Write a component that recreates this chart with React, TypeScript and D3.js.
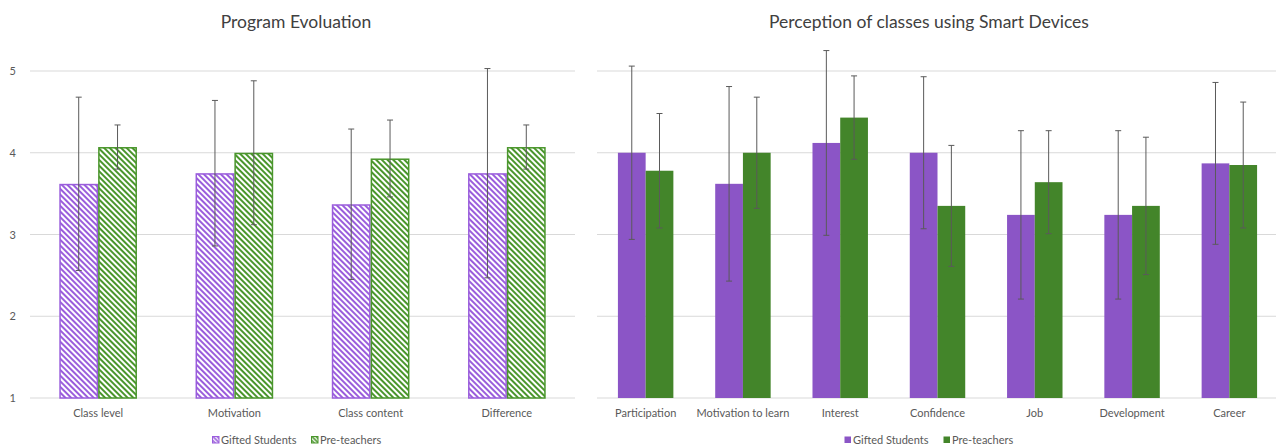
import React from "react";
import * as d3 from "d3";

const W = 1279;
const H = 446;

const seriesNames = ["Gifted Students", "Pre-teachers"];

// Program Evoluation
const evalCategories = ["Class level", "Motivation", "Class content", "Difference"];
const evalGifted = [3.62, 3.75, 3.37, 3.75];
const evalGiftedErr = [1.06, 0.89, 0.92, 1.28];
const evalPre = [4.07, 4.0, 3.93, 4.07];
const evalPreErr = [0.27, 0.88, 0.47, 0.27];

// Perception of classes using Smart Devices
const percCategories = ["Participation", "Motivation to learn", "Interest", "Confidence", "Job", "Development", "Career"];
const percGifted = [4.0, 3.62, 4.12, 4.0, 3.24, 3.24, 3.87];
const percGiftedErr = [1.06, 1.19, 1.13, 0.93, 1.03, 1.03, 0.99];
const percPre = [3.78, 4.0, 4.43, 3.35, 3.64, 3.35, 3.85];
const percPreErr = [0.7, 0.68, 0.51, 0.74, 0.63, 0.84, 0.77];

const yTicks = [1, 2, 3, 4, 5];

const PURPLE = "#8b55c6";
const GREEN = "#43852a";
const PURPLE_HATCH = "#9a5ddc";
const GREEN_HATCH = "#4a962c";
const GRID = "#d9d9d9";
const TEXT = "#595959";
const ERR = "#5a5a5a";
const FONT = "Lato, 'Open Sans', sans-serif";

const yScale = d3.scaleLinear().domain([1, 5]).range([398, 71]);

type PanelProps = {
  title: string;
  titleX: number;
  categories: string[];
  gifted: number[];
  giftedErr: number[];
  pre: number[];
  preErr: number[];
  x0: number;
  x1: number;
  hatched: boolean;
  showYAxis: boolean;
  gridEnd: number;
  legendX: number;
};

function Panel(p: PanelProps) {
  const xBand = d3.scaleBand<string>().domain(p.categories).range([p.x0, p.x1]).paddingInner(0.43).paddingOuter(0.215);
  const xSub = d3.scaleBand<string>().domain(seriesNames).range([0, xBand.bandwidth()]);
  const fills = p.hatched ? ["url(#hatchPurple)", "url(#hatchGreen)"] : [PURPLE, GREEN];
  const strokes = p.hatched ? [PURPLE_HATCH, GREEN_HATCH] : ["none", "none"];
  const values = [p.gifted, p.pre];
  const errs = [p.giftedErr, p.preErr];
  return (
    <g>
      <text x={p.titleX} y={28} textAnchor="middle" fontSize={17.5} fill="#404040" fontFamily={FONT}>
        {p.title}
      </text>
      {yTicks.map((t) => (
        <line key={t} x1={p.x0} x2={p.gridEnd} y1={yScale(t)} y2={yScale(t)} stroke={GRID} strokeWidth={1} />
      ))}
      {p.showYAxis &&
        yTicks.map((t) => (
          <text key={t} x={16} y={yScale(t) + 4} textAnchor="end" fontSize={11} fill={TEXT} fontFamily={FONT}>
            {t}
          </text>
        ))}
      {seriesNames.map((s, si) =>
        p.categories.map((c, ci) => {
          const v = values[si][ci];
          const bx = (xBand(c) as number) + (xSub(s) as number);
          const bw = xSub.bandwidth();
          const inset = p.hatched ? 0.75 : 0;
          return (
            <rect
              key={s + c}
              x={bx + inset}
              y={yScale(v) + inset}
              width={bw - inset * 2}
              height={yScale(1) - yScale(v) - inset}
              fill={fills[si]}
              stroke={strokes[si]}
              strokeWidth={p.hatched ? 1.5 : 0}
            />
          );
        })
      )}
      {seriesNames.map((s, si) =>
        p.categories.map((c, ci) => {
          const v = values[si][ci];
          const e = errs[si][ci];
          const ex = (xBand(c) as number) + (xSub(s) as number) + xSub.bandwidth() / 2;
          return (
            <g key={"e" + s + c} stroke={ERR} strokeWidth={1}>
              <line x1={ex} x2={ex} y1={yScale(v + e)} y2={yScale(v - e)} />
              <line x1={ex - 3} x2={ex + 3} y1={yScale(v + e)} y2={yScale(v + e)} />
              <line x1={ex - 3} x2={ex + 3} y1={yScale(v - e)} y2={yScale(v - e)} />
            </g>
          );
        })
      )}
      {p.categories.map((c) => (
        <text
          key={"l" + c}
          x={(xBand(c) as number) + xBand.bandwidth() / 2}
          y={417}
          textAnchor="middle"
          fontSize={11}
          fill={TEXT}
          fontFamily={FONT}
        >
          {c}
        </text>
      ))}
      <Legend x={p.legendX} hatched={p.hatched} />
    </g>
  );
}

function Legend({ x, hatched }: { x: number; hatched: boolean }) {
  const fills = hatched ? ["url(#hatchPurpleSmall)", "url(#hatchGreenSmall)"] : [PURPLE, GREEN];
  const strokes = hatched ? [PURPLE_HATCH, GREEN_HATCH] : ["none", "none"];
  const offsets = [0, 99];
  return (
    <g>
      {seriesNames.map((s, i) => (
        <g key={s} transform={`translate(${x + offsets[i]},0)`}>
          <rect x={0.5} y={436.5} width={6.5} height={6.5} fill={fills[i]} stroke={strokes[i]} strokeWidth={1} />
          <text x={9} y={444} fontSize={11} fill={TEXT} fontFamily={FONT}>
            {s}
          </text>
        </g>
      ))}
    </g>
  );
}

export default function App() {
  return (
    <div style={{ position: "absolute", left: 0, top: 0 }}>
      <svg width={W} height={H} style={{ display: "block", background: "#fff" }}>
        <defs>
          <pattern id="hatchPurple" patternUnits="userSpaceOnUse" width={4} height={4} patternTransform="rotate(-45)">
            <rect width={4} height={4} fill="#fff" />
            <line x1={1} y1={0} x2={1} y2={4} stroke={PURPLE_HATCH} strokeWidth={2} />
          </pattern>
          <pattern id="hatchGreen" patternUnits="userSpaceOnUse" width={4} height={4} patternTransform="rotate(-45)">
            <rect width={4} height={4} fill="#fff" />
            <line x1={1} y1={0} x2={1} y2={4} stroke={GREEN_HATCH} strokeWidth={2} />
          </pattern>
          <pattern id="hatchPurpleSmall" patternUnits="userSpaceOnUse" width={3} height={3} patternTransform="rotate(-45)">
            <rect width={3} height={3} fill="#fff" />
            <line x1={1} y1={0} x2={1} y2={3} stroke={PURPLE_HATCH} strokeWidth={1.6} />
          </pattern>
          <pattern id="hatchGreenSmall" patternUnits="userSpaceOnUse" width={3} height={3} patternTransform="rotate(-45)">
            <rect width={3} height={3} fill="#fff" />
            <line x1={1} y1={0} x2={1} y2={3} stroke={GREEN_HATCH} strokeWidth={1.6} />
          </pattern>
        </defs>
        <Panel
          title="Program Evoluation"
          titleX={296}
          categories={evalCategories}
          gifted={evalGifted}
          giftedErr={evalGiftedErr}
          pre={evalPre}
          preErr={evalPreErr}
          x0={30}
          x1={575}
          gridEnd={575}
          hatched={true}
          showYAxis={true}
          legendX={212}
        />
        <Panel
          title="Perception of classes using Smart Devices"
          titleX={929}
          categories={percCategories}
          gifted={percGifted}
          giftedErr={percGiftedErr}
          pre={percPre}
          preErr={percPreErr}
          x0={597}
          x1={1278}
          gridEnd={1276}
          hatched={false}
          showYAxis={false}
          legendX={844}
        />
      </svg>
    </div>
  );
}
